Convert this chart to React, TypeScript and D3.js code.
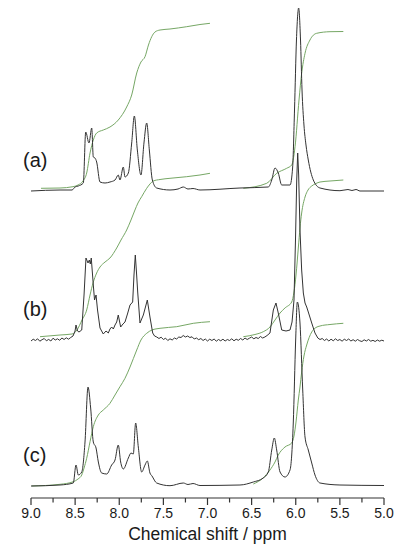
import React from 'react';
import * as d3 from 'd3';

// [ppm, intensity] pairs, intensity relative to each trace baseline
const spectrumA = [
  [9.0, 0], [8.671, 1], [8.535, 1], [8.501, 4], [8.464, 5], [8.407, 8], [8.38, 59], [8.343, 48], [8.312, 63],
  [8.294, 34], [8.275, 33], [8.256, 29], [8.218, 9], [8.161, 8], [8.105, 9], [8.048, 11], [8.011, 16], [7.992, 11],
  [7.954, 24], [7.935, 14], [7.897, 18], [7.859, 48], [7.829, 75], [7.795, 41], [7.754, 16], [7.72, 48], [7.689, 68],
  [7.659, 41], [7.625, 11], [7.576, 3], [7.425, 1], [7.334, 2], [7.274, 4], [7.221, 2], [7.164, 2.5], [7.085, 1],
  [6.632, 3], [6.311, 4], [6.272, 11], [6.235, 23], [6.198, 18], [6.159, 6], [6.065, 6], [6.035, 24], [6.014, 81],
  [5.992, 151], [5.967, 183], [5.946, 151], [5.929, 101], [5.907, 66], [5.884, 46], [5.858, 31], [5.801, 11],
  [5.725, 3], [5.499, 0.3], [5.408, 1.5], [5.363, 0.5], [5.317, 1.5], [5.272, 0], [5.0, 0],
];

// (b) is the noisy one
const spectrumB = [
  [9.0, -1], [8.975, 0.8], [8.95, -0.5], [8.925, 1.2], [8.9, -1.2], [8.875, 0.3], [8.85, 1.5], [8.825, -0.8],
  [8.8, 0.6], [8.775, -1], [8.75, 1.8], [8.725, 0], [8.7, 1.2], [8.675, -0.3], [8.65, 2], [8.625, 0.5], [8.6, 2.2],
  [8.575, 0.8], [8.55, 2.5], [8.524, 4], [8.501, 9], [8.49, 15], [8.473, 9], [8.456, 8], [8.425, 10], [8.399, 45],
  [8.377, 82], [8.354, 77], [8.339, 80], [8.328, 76], [8.317, 82], [8.294, 55], [8.28, 40], [8.263, 45], [8.246, 30],
  [8.218, 12], [8.181, 6], [8.15, 9], [8.124, 7], [8.105, 11], [8.086, 13], [8.067, 11], [8.048, 15], [8.029, 18],
  [8.011, 25], [7.984, 13], [7.958, 16], [7.935, 18], [7.907, 26], [7.878, 35], [7.848, 38], [7.833, 65], [7.818, 85],
  [7.805, 68], [7.791, 48], [7.765, 17], [7.727, 25], [7.682, 40], [7.652, 23], [7.621, 7], [7.6, 4],
  [7.575, 3], [7.55, 1.5], [7.525, 2.8], [7.5, 0.5], [7.475, 1.8], [7.45, -0.5], [7.425, 1.2], [7.4, 0], [7.375, 2],
  [7.35, 1], [7.325, 3], [7.3, 2.5], [7.275, 4.5], [7.25, 3], [7.225, 4], [7.2, 2.5], [7.175, 3.2], [7.15, 1],
  [7.125, 2], [7.1, 0.3], [7.075, 1.5], [7.05, -0.5], [7.025, 1], [7.0, -1], [6.975, 0.8], [6.95, -0.5], [6.925, 1],
  [6.9, -1.2], [6.875, 0.5], [6.85, -0.8], [6.825, 0.8], [6.8, -1], [6.775, 0.5], [6.75, -0.5], [6.725, 1.2],
  [6.7, -0.8], [6.675, 0.8], [6.65, -0.3], [6.625, 1.5], [6.6, 0], [6.575, 2], [6.55, 0.5], [6.525, 1.8], [6.5, 3],
  [6.475, 1.2], [6.45, 2.5], [6.425, 1.5], [6.4, 3.5], [6.375, 2], [6.35, 3], [6.325, 4.5],
  [6.292, 7], [6.254, 30], [6.224, 37], [6.198, 27], [6.159, 10], [6.11, 9], [6.065, 10], [6.042, 18],
  [6.02, 40], [6.003, 100], [5.989, 160], [5.978, 187], [5.967, 165], [5.952, 110], [5.933, 70], [5.914, 47],
  [5.895, 37], [5.876, 33], [5.858, 28], [5.819, 17], [5.782, 7], [5.75, 2],
  [5.725, 0.5], [5.7, 1.5], [5.675, -0.5], [5.65, 1], [5.625, -1], [5.6, 0.8], [5.575, -0.8], [5.55, 1.2],
  [5.525, -0.5], [5.5, 0.5], [5.475, -1.2], [5.45, 0.8], [5.425, -0.5], [5.4, 1], [5.375, -1], [5.35, 0.3],
  [5.325, -1.2], [5.3, 0.5], [5.275, -0.8], [5.25, -1.5], [5.225, 0.2], [5.2, -1], [5.175, 0.5], [5.15, -1.2],
  [5.125, -0.3], [5.1, -1.5], [5.075, 0], [5.05, -1.2], [5.025, -0.2], [5.0, -1],
];

const spectrumC = [
  [9.0, 0], [8.671, 1], [8.521, 3], [8.49, 21], [8.464, 11], [8.425, 14], [8.388, 44], [8.354, 99], [8.324, 78],
  [8.294, 44], [8.263, 38], [8.237, 24], [8.199, 13], [8.142, 12], [8.086, 21], [8.048, 26], [8.011, 41], [7.984, 24],
  [7.954, 17], [7.897, 28], [7.867, 33], [7.841, 32], [7.814, 63], [7.784, 39], [7.746, 14], [7.708, 21], [7.682, 25],
  [7.652, 13], [7.629, 10], [7.576, 3], [7.425, 0.3], [7.274, 3], [7.221, 1.5], [7.164, 2.5], [7.085, 0.5], [6.632, 1],
  [6.481, 4], [6.368, 8], [6.311, 14], [6.272, 36], [6.243, 48], [6.216, 36], [6.178, 14], [6.122, 9], [6.065, 16],
  [6.028, 63], [6.001, 146], [5.982, 184], [5.952, 163], [5.921, 96], [5.895, 49], [5.858, 36], [5.819, 23],
  [5.782, 11], [5.725, 3], [5.499, 1], [5.0, 0.5],
];

// integral curves, same units
const integralA1 = [
  [8.887, 2.7], [8.671, 3], [8.524, 4.3], [8.467, 6], [8.411, 10], [8.369, 18], [8.331, 38], [8.294, 51], [8.256, 58],
  [8.181, 61], [8.105, 64], [8.011, 71], [7.916, 84], [7.859, 96], [7.802, 118], [7.754, 129], [7.708, 134.3],
  [7.669, 146], [7.632, 154.3], [7.595, 159], [7.538, 161], [7.425, 162], [7.236, 164.3], [7.085, 166.5], [6.972, 167.7],
];
const integralA2 = [
  [6.594, 2.7], [6.329, 7.7], [6.216, 17.7], [6.103, 22.7], [6.046, 26], [6.008, 44.3], [5.963, 91], [5.933, 117.7],
  [5.895, 137.7], [5.839, 151], [5.763, 157.7], [5.612, 159.3], [5.461, 159.5],
];
const integralB1 = [
  [8.898, 3.3], [8.671, 5], [8.535, 6], [8.479, 10], [8.422, 20], [8.369, 30], [8.331, 45], [8.297, 57], [8.256, 67],
  [8.218, 73], [8.161, 78], [8.105, 82], [8.029, 92], [7.98, 100], [7.916, 110], [7.867, 120], [7.822, 130],
  [7.788, 137], [7.746, 143.3], [7.689, 151.7], [7.652, 156], [7.614, 159], [7.538, 160.5], [7.425, 161.7],
  [7.236, 163.3], [7.085, 165], [6.972, 166.7],
];
const integralB2 = [
  [6.594, 3.3], [6.462, 5.5], [6.368, 8.3], [6.292, 13], [6.235, 20], [6.178, 27], [6.122, 32], [6.046, 38], [6.02, 48],
  [5.997, 65], [5.971, 92], [5.952, 112], [5.933, 127], [5.895, 143], [5.861, 150], [5.819, 154], [5.771, 156.5],
  [5.725, 158], [5.612, 159], [5.461, 160],
];
const integralC1 = [
  [8.992, 0], [8.671, 1.7], [8.521, 4.3], [8.467, 7], [8.425, 11], [8.399, 18], [8.369, 27.7], [8.331, 44.3],
  [8.294, 59.3], [8.237, 71], [8.181, 76], [8.105, 82.7], [8.048, 91], [7.992, 99.3], [7.935, 107.7], [7.878, 119],
  [7.802, 136], [7.754, 146], [7.689, 152.7], [7.629, 156], [7.538, 157.7], [7.349, 159.3], [7.161, 162.7], [6.972, 164.3],
];
const integralC2 = [
  [6.481, 2], [6.371, 8], [6.292, 16], [6.235, 24], [6.198, 31], [6.122, 39], [6.046, 43], [6.02, 50], [5.997, 64],
  [5.971, 86], [5.952, 99], [5.933, 114], [5.907, 130], [5.876, 141], [5.819, 154], [5.771, 158.5], [5.725, 160],
  [5.612, 161.5], [5.461, 162.7],
];

const traceLabels = ['(a)', '(b)', '(c)'];
const traceOffsets = [295, 146, 0];
const spectra = [spectrumA, spectrumB, spectrumC];
const integrals = [[integralA1, integralA2], [integralB1, integralB2], [integralC1, integralC2]];

const majorTicks = [9.0, 8.5, 8.0, 7.5, 7.0, 6.5, 6.0, 5.5, 5.0];
const minorTicks = [8.75, 8.25, 7.75, 7.25, 6.75, 6.25, 5.75, 5.25];
const xTitle = 'Chemical shift / ppm';

const W = 419, H = 550;
const axisY = 498;

export default function App() {
  const x = d3.scaleLinear().domain([9, 5]).range([31, 384]);
  const y = d3.scaleLinear().domain([0, 490]).range([486, -4]);

  const makeLine = (offset: number, curve: d3.CurveFactory) =>
    d3.line<number[]>()
      .x(d => x(d[0]))
      .y(d => y(d[1] + offset))
      .curve(curve);

  const font = 'Arial, "Liberation Sans", sans-serif';

  return (
    <svg width={W} height={H} style={{ position: 'absolute', left: 0, top: 0, background: '#fff' }}>
      {integrals.map((pair, i) =>
        pair.map((seg, j) => (
          <path key={`int${i}${j}`} d={makeLine(traceOffsets[i], d3.curveMonotoneX)(seg) || ''}
            fill="none" stroke="#76a765" strokeWidth={1} />
        ))
      )}
      {spectra.map((s, i) => (
        <path key={`sp${i}`}
          d={makeLine(traceOffsets[i], i === 1 ? d3.curveLinear : d3.curveMonotoneX)(s) || ''}
          fill="none" stroke="#333" strokeWidth={1} strokeLinejoin="round" />
      ))}
      {traceLabels.map((t, i) => (
        <text key={t} x={23} y={y(traceOffsets[i]) - 24} fontFamily={font} fontSize={20} fill="#1a1a1a">{t}</text>
      ))}

      <g>
        <line x1={x(9)} x2={x(5)} y1={axisY} y2={axisY} stroke="#333" strokeWidth={1.2} />
        {majorTicks.map(t => (
          <g key={`M${t}`}>
            <line x1={x(t)} x2={x(t)} y1={axisY} y2={axisY + 7} stroke="#333" strokeWidth={1.2} />
            <text x={x(t)} y={axisY + 19.5} textAnchor="middle" fontFamily={font} fontSize={14} fill="#1a1a1a">
              {t.toFixed(1)}
            </text>
          </g>
        ))}
        {minorTicks.map(t => (
          <line key={`m${t}`} x1={x(t)} x2={x(t)} y1={axisY} y2={axisY + 4.5} stroke="#333" strokeWidth={1.2} />
        ))}
        <text x={(x(9) + x(5)) / 2} y={539.5} textAnchor="middle" fontFamily={font} fontSize={17.5} fill="#1a1a1a">
          {xTitle}
        </text>
      </g>
    </svg>
  );
}
